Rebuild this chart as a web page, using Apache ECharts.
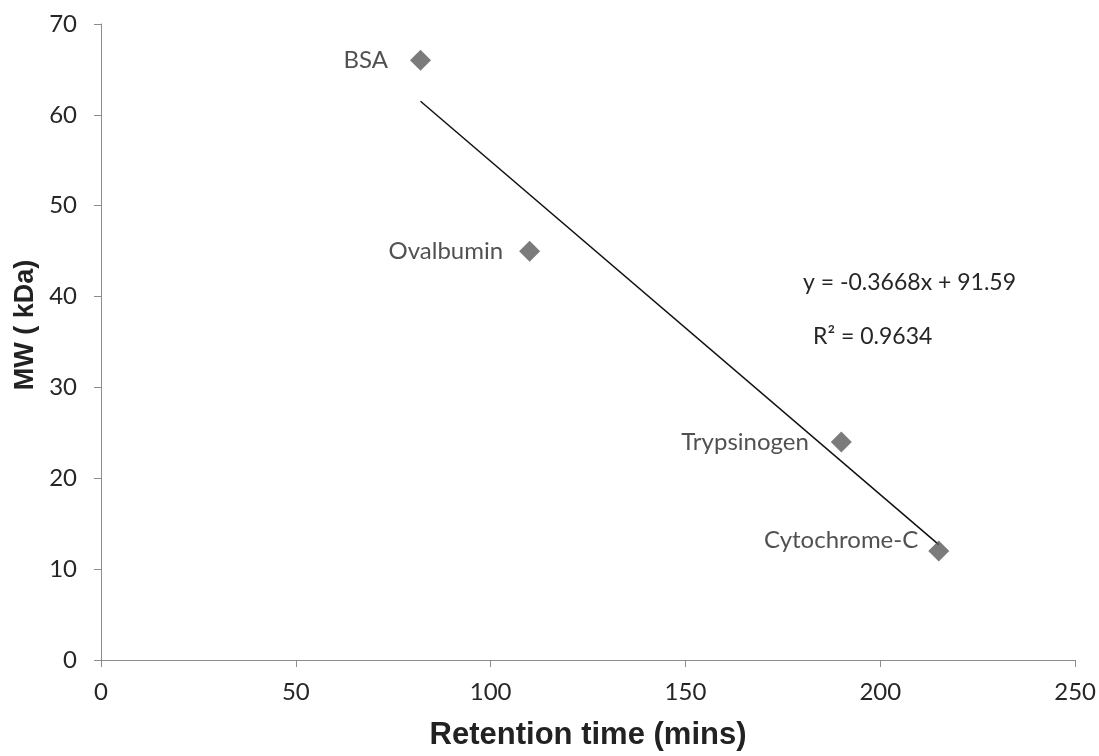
<!DOCTYPE html>
<html>
<head>
<meta charset="utf-8">
<script src="https://cdn.jsdelivr.net/npm/echarts@6/dist/echarts.min.js"></script>
<style>html,body{margin:0;padding:0;background:#fff}#c{width:1099px;height:756px}</style>
</head>
<body>
<div id="c"></div>
<script>
// Data
const proteins = ['BSA', 'Ovalbumin', 'Trypsinogen', 'Cytochrome-C'];
const retentionTime = [82, 110, 190, 215];
const molecularWeight = [66, 45, 24, 12];
// Trendline end points as drawn in the picture
const trendX = [82, 215];
const trendY = [61.5, 12.7];
const xTicks = [0, 50, 100, 150, 200, 250];
const yTicks = [0, 10, 20, 30, 40, 50, 60, 70];
const equationText = 'y = -0.3668x + 91.59';
const r2Text = 'R\u00B2 = 0.9634';
const xTitle = 'Retention time (mins)';
const yTitle = 'MW ( kDa)';

const labelShift = { 'BSA': [-8, 0], 'Ovalbumin': [-2, 0], 'Trypsinogen': [-8, 0], 'Cytochrome-C': [4, -11] };

const chart = echarts.init(document.getElementById('c'), null, { renderer: 'canvas' });
const tickFont = { fontFamily: 'Lato', fontSize: 24, color: '#262626' };

chart.setOption({
  animation: false,
  backgroundColor: '#fff',
  grid: { left: 101, right: 23, top: 24, bottom: 93, containLabel: false },
  xAxis: {
    type: 'value', min: xTicks[0], max: xTicks[xTicks.length - 1], interval: xTicks[1] - xTicks[0],
    axisLine: { show: true, lineStyle: { color: '#8c8c8c', width: 1 } },
    axisTick: { show: true, inside: false, length: 7, lineStyle: { color: '#8c8c8c' } },
    splitLine: { show: false },
    axisLabel: Object.assign({ margin: 20 }, tickFont),
    name: xTitle, nameLocation: 'middle', nameGap: 60,
    nameTextStyle: { fontFamily: 'Liberation Sans', fontWeight: 'bold', fontSize: 31, color: '#222' }
  },
  yAxis: {
    type: 'value', min: yTicks[0], max: yTicks[yTicks.length - 1], interval: yTicks[1] - yTicks[0],
    axisLine: { show: true, lineStyle: { color: '#8c8c8c', width: 1 } },
    axisTick: { show: true, inside: false, length: 7, lineStyle: { color: '#8c8c8c' } },
    splitLine: { show: false },
    axisLabel: Object.assign({ margin: 24 }, tickFont)
  },
  graphic: [
    { type: 'text', x: 26, y: 325, rotation: Math.PI / 2,
      style: { text: yTitle, font: 'bold 27px "Liberation Sans"', fill: '#222', textAlign: 'center', textVerticalAlign: 'middle' } },
    { type: 'text', x: 803, y: 283,
      style: { text: equationText, font: '23px Lato', fill: '#262626', textAlign: 'left', textVerticalAlign: 'middle' } },
    { type: 'text', x: 813, y: 337,
      style: { text: r2Text, font: '23px Lato', fill: '#262626', textAlign: 'left', textVerticalAlign: 'middle' } }
  ],
  series: [
    {
      type: 'line',
      data: trendX.map((x, i) => [x, trendY[i]]),
      symbol: 'none',
      lineStyle: { color: '#111', width: 1.5 },
      silent: true, z: 2
    },
    {
      type: 'scatter',
      symbol: 'diamond',
      symbolSize: 21,
      itemStyle: { color: '#5a5a5a' },
      z: 3,
      data: proteins.map((p, i) => ({
        name: p,
        value: [retentionTime[i], molecularWeight[i]],
        label: { show: true, position: 'left', distance: 14, offset: labelShift[p],
                 formatter: '{b}', fontFamily: 'Lato', fontSize: 24, color: '#262626' }
      }))
    }
  ]
});
</script>
</body>
</html>
